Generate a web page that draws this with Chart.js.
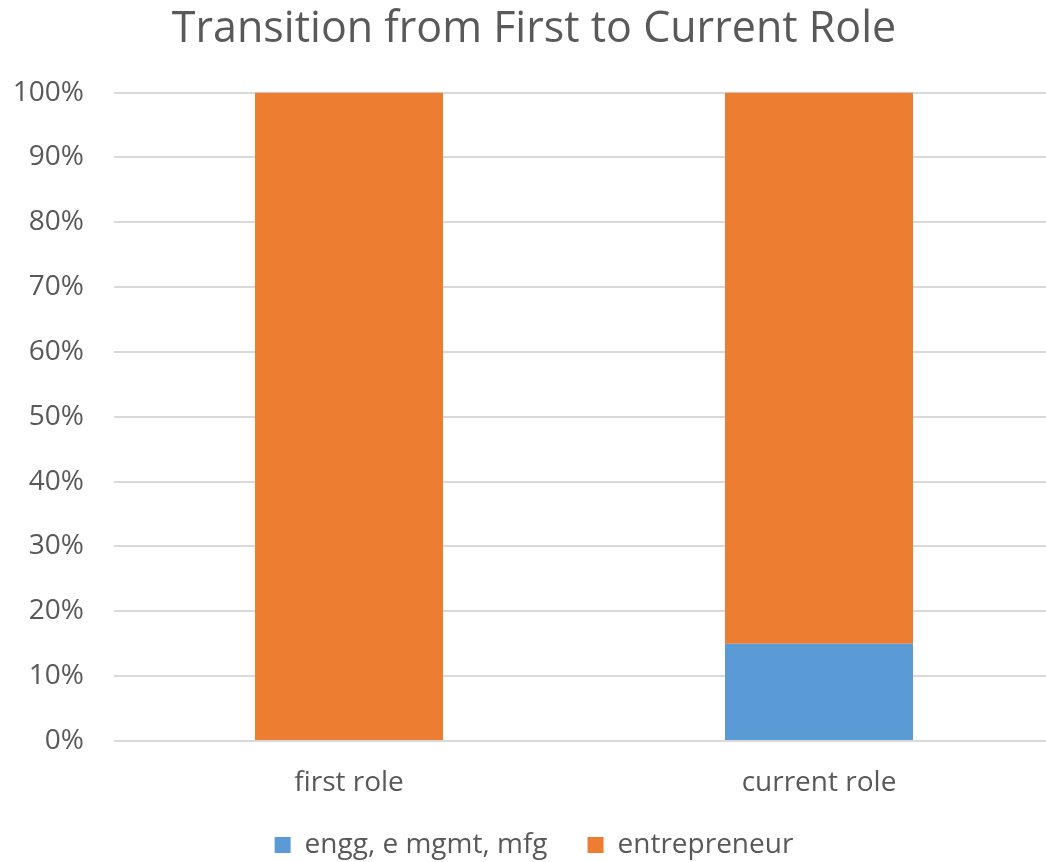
<!DOCTYPE html>
<html>
<head>
<meta charset="utf-8">
<script src="https://cdn.jsdelivr.net/npm/chart.js@4.4.0/dist/chart.umd.min.js"></script>
<style>
  html, body { margin: 0; padding: 0; background: #fff; overflow: hidden; }
  #wrap { width: 1046px; height: 862px; overflow: hidden; }
</style>
</head>
<body>
<div id="wrap"><canvas id="myChart" width="1054" height="862"></canvas></div>
<script>
const categories = ['first role', 'current role'];
const enggValues = [0, 15];
const entrepreneurValues = [100, 85];
const seriesNames = ['engg, e mgmt, mfg', 'entrepreneur'];

const textColor = '#595959';
const fontFamily = '"Open Sans", "Noto Sans", sans-serif';

const ctx = document.getElementById('myChart').getContext('2d');
new Chart(ctx, {
    type: 'bar',
    data: {
        labels: categories,
        datasets: [
            {
                label: seriesNames[0],
                data: enggValues,
                backgroundColor: '#5B9BD5',
                borderWidth: 0
            },
            {
                label: seriesNames[1],
                data: entrepreneurValues,
                backgroundColor: '#ED7D31',
                borderWidth: 0
            }
        ]
    },
    options: {
        responsive: false,
        animation: false,
        layout: { padding: { left: 14, right: 0, top: 0, bottom: -7 } },
        datasets: {
            bar: { categoryPercentage: 1.0, barPercentage: 0.4 }
        },
        scales: {
            x: {
                stacked: true,
                grid: { display: false, drawTicks: false },
                border: { display: false },
                ticks: {
                    color: textColor,
                    padding: 25,
                    font: { family: fontFamily, size: 28 }
                },
                afterFit: scale => { scale.height = 50; }
            },
            y: {
                stacked: true,
                min: 0,
                max: 100,
                grid: { color: '#d9d9d9', lineWidth: 2, drawTicks: false },
                border: { display: false },
                ticks: {
                    stepSize: 10,
                    color: textColor,
                    padding: 30,
                    font: { family: fontFamily, size: 28 },
                    callback: v => v + '%'
                },
                afterFit: scale => { scale.width = 100; }
            }
        },
        plugins: {
            title: {
                display: true,
                text: 'Transition from First to Current Role',
                color: textColor,
                font: { family: fontFamily, size: 43, weight: 'normal' },
                padding: { top: 4, bottom: 37 }
            },
            legend: {
                position: 'bottom',
                labels: {
                    color: textColor,
                    boxWidth: 16,
                    boxHeight: 16,
                    padding: 40,
                    font: { family: fontFamily, size: 28 }
                }
            },
            tooltip: { enabled: false }
        }
    }
});
</script>
</body>
</html>
